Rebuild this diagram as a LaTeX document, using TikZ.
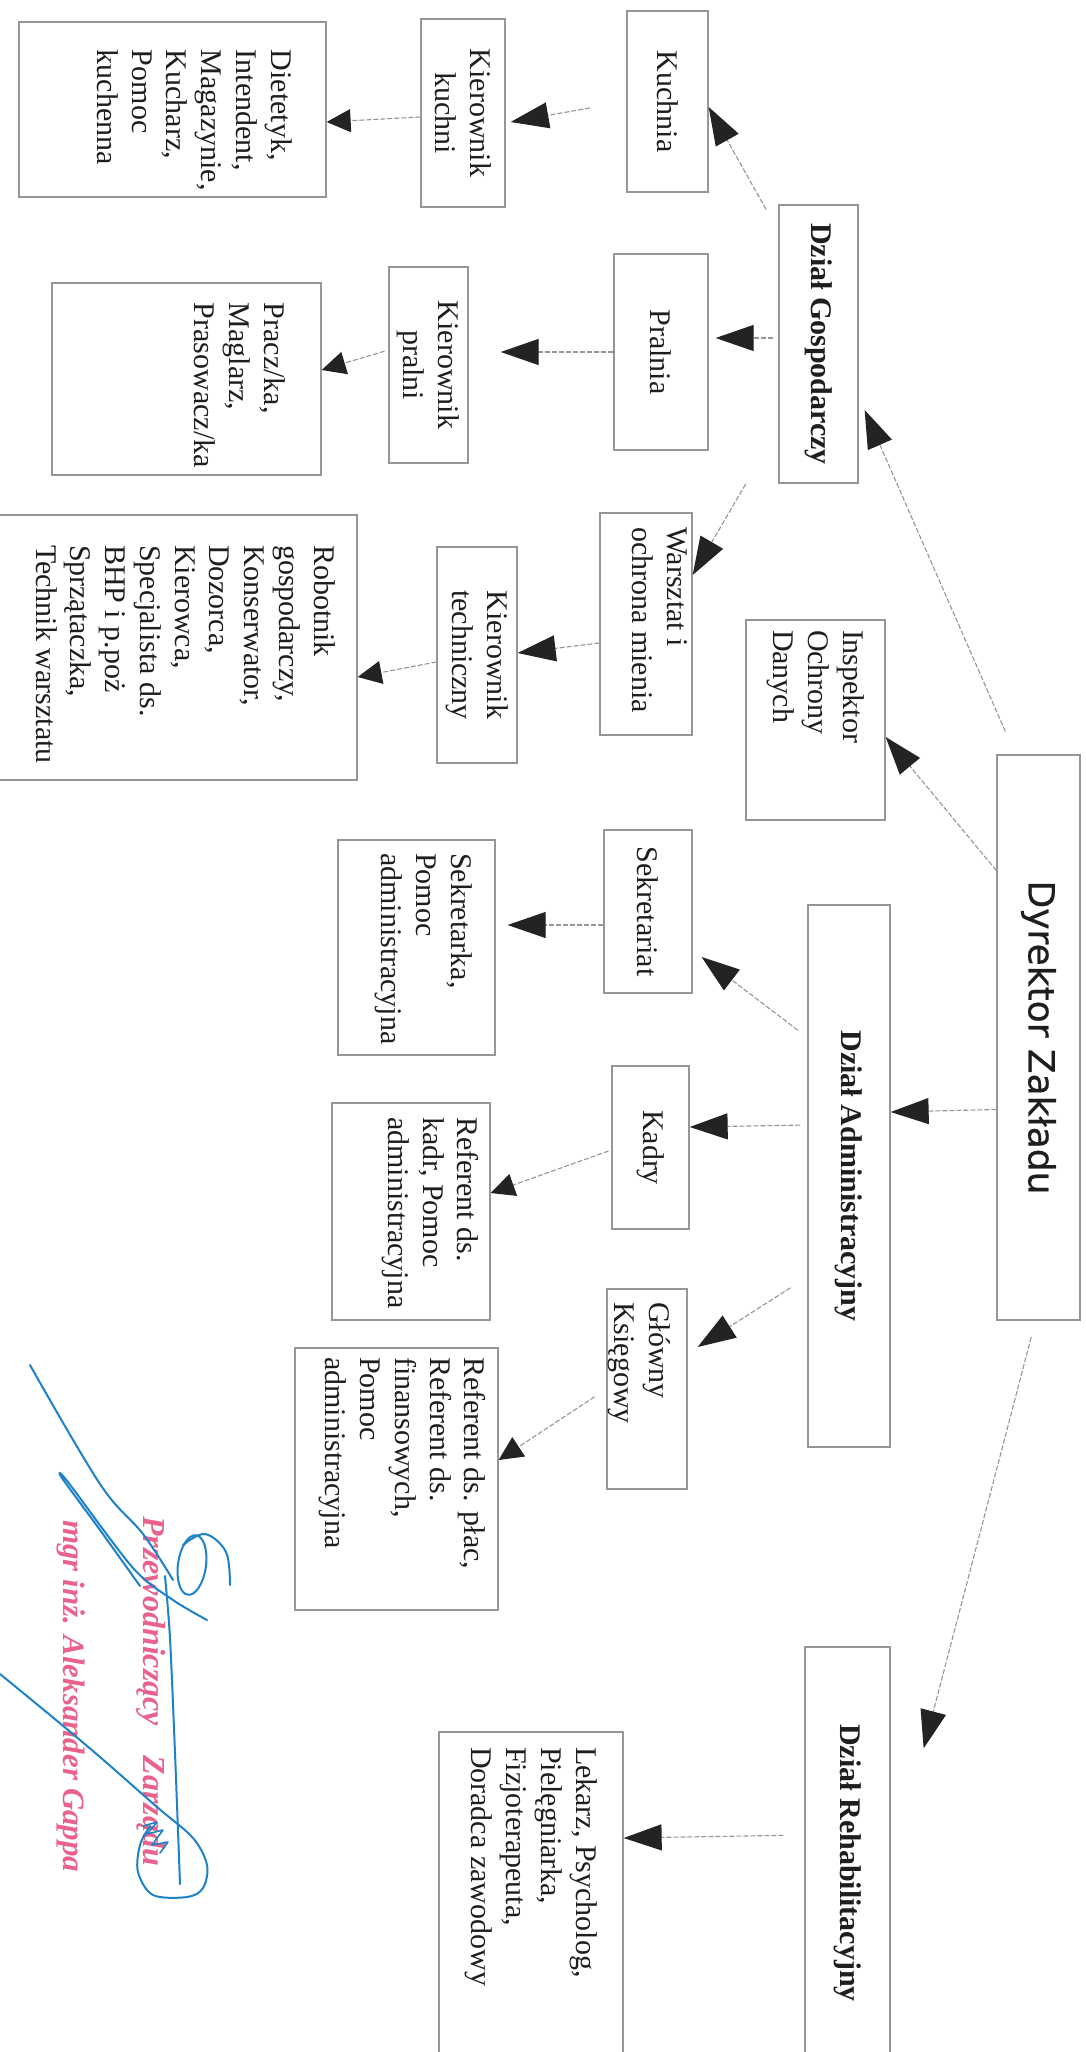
\documentclass[tikz,border=0pt]{standalone}
\usepackage{fontspec}
\setmainfont{Liberation Serif}
\newfontfamily\dyrfont[FakeBold=0.6]{DejaVu Sans}
\usepackage{graphicx}
\usetikzlibrary{arrows.meta}
\definecolor{boxc}{RGB}{150,150,150}
\definecolor{linec}{RGB}{150,150,150}
\definecolor{tipc}{RGB}{35,35,35}
\definecolor{txtc}{RGB}{30,30,30}
\definecolor{stampc}{RGB}{232,98,140}
\definecolor{inkc}{RGB}{30,130,200}
\newcommand{\cbox}[3]{\rotatebox{-90}{\parbox[c][#2pt][c]{#1pt}{\centering #3\par}}}
\newcommand{\lbox}[5]{\rotatebox{-90}{\parbox[c][#2pt][t]{#1pt}{\vspace*{#3pt}\raggedright\leftskip=#4pt\relax #5\par}}}
\tikzset{
  box/.style={draw=boxc, line width=1.3pt, inner sep=0pt, fill=white, text=txtc, font=\fontsize{30}{34.75}\selectfont},
  dbox/.style={box, font=\bfseries\fontsize{30}{34.75}\selectfont},
  conn/.style={draw=linec, line width=1.1pt, dash pattern=on 5pt off 2pt},
  bigarr/.style={conn, -{Triangle[length=38pt,width=26pt,color=tipc]}},
  smallarr/.style={conn, -{Triangle[length=24pt,width=23pt,color=tipc]}},
  sig/.style={draw=inkc, line width=2pt, line cap=round, line join=round},
  stamp/.style={text=stampc, font=\bfseries\itshape\fontsize{32}{36}\selectfont, rotate=-90, anchor=base west, inner sep=0pt},
}
\begin{document}
\begin{tikzpicture}[x=1pt,y=1pt]
\useasboundingbox[fill=white] (0,0) rectangle (1086,-2052);
\clip (0,0) rectangle (1086,-2052);
% boxes
\node[box] (kuchnia) at (667.5,-101.5) {\cbox{181}{81}{Kuchnia}};
\node[box] (kkuchni) at (463,-113) {\cbox{188}{84}{Kierownik\\kuchni}};
\node[box] (diet) at (172.5,-109.5) {\lbox{175}{307}{34}{28}{Dietetyk,\\Intendent,\\Magazynie,\\Kucharz,\\Pomoc\\kuchenna}};
\node[dbox] (gosp) at (818.5,-344) {\cbox{278}{79}{Dział Gospodarczy}};
\node[box] (pralnia) at (661,-352) {\cbox{196}{94}{Pralnia}};
\node[box] (kpralni) at (428.5,-365) {\cbox{196}{79}{Kierownik\\pralni}};
\node[box] (pracz) at (186.5,-379) {\lbox{192}{269}{36}{20}{Pracz/ka,\\Maglarz,\\Prasowacz/ka}};
\node[box] (warsztat) at (646,-624) {\lbox{222}{92}{5}{14}{Warsztat i\\ochrona mienia}};
\node[box] (ktech) at (477,-655) {\cbox{216}{80}{Kierownik\\techniczny}};
\node[box] (robot) at (177,-647.5) {\lbox{265}{360}{22}{30}{Robotnik\\gospodarczy,\\Konserwator,\\Dozorca,\\Kierowca,\\Specjalista ds.\\BHP i p.poż\\Sprzątaczka,\\Technik warsztatu}};
\node[box] (insp) at (815.5,-720) {\lbox{200}{139}{21}{10}{Inspektor\\Ochrony\\Danych}};
\node[box] (dyr) at (1038.5,-1037.5) {\cbox{565}{83}{\dyrfont\fontsize{36}{40}\selectfont Dyrektor Zakładu}};
\node[box] (sekr) at (648,-911.5) {\cbox{163}{88}{Sekretariat}};
\node[box] (sekrbox) at (416.5,-947.5) {\lbox{215}{157}{23}{13}{Sekretarka,\\Pomoc\\administracyjna}};
\node[dbox] (admin) at (849,-1176) {\cbox{542}{82}{Dział Administracyjny}};
\node[box] (kadry) at (650.5,-1147.5) {\cbox{163}{77}{Kadry}};
\node[box] (refkadr) at (411,-1211.5) {\lbox{217}{158}{11}{14}{Referent ds.\\kadr, Pomoc\\administracyjna}};
\node[box] (glowny) at (647,-1389) {\lbox{200}{80}{17}{13}{Główny\\Księgowy}};
\node[box] (refplac) at (396.5,-1479) {\lbox{262}{203}{12}{9}{Referent ds. płac,\\Referent ds.\\finansowych,\\Pomoc\\administracyjna}};
\node[dbox] (rehab) at (847.5,-1863) {\cbox{432}{85}{Dział Rehabilitacyjny}};
\node[box] (lekarz) at (531,-1916) {\lbox{368}{184}{26}{15}{Lekarz, Psycholog,\\Pielęgniarka,\\Fizjoterapeuta,\\Doradca zawodowy}};
% connectors
\draw[bigarr, shorten <=25pt] ([xshift=19pt]dyr.north west) -- ([xshift=6pt,yshift=-66pt]gosp.east);
\draw[bigarr] ([yshift=167pt]dyr.west) -- ([yshift=-17pt]insp.east);
\draw[bigarr] ([yshift=-72pt]dyr.west) -- ([yshift=64pt]admin.east);
\draw[bigarr, shorten <=17pt] ([xshift=-3pt]dyr.south) -- ([xshift=33pt,yshift=-102pt]rehab.north east);
\draw[bigarr, shorten <=25pt] ([yshift=-27pt]gosp.north west) -- ([yshift=-5.5pt]kuchnia.east);
\draw[bigarr, shorten <=5pt] ([yshift=6pt]gosp.west) -- ([xshift=7pt,yshift=14pt]pralnia.east);
\draw[bigarr, shorten <=65pt] ([yshift=-84pt]gosp.west) -- ([yshift=49pt]warsztat.east);
\draw[bigarr, shorten <=37pt] (kuchnia.west) -- ([xshift=5pt,yshift=-9pt]kkuchni.east);
\draw[smallarr] ([yshift=-4pt]kkuchni.west) -- ([yshift=-12.5pt]diet.east);
\draw[bigarr] (pralnia.west) -- ([xshift=32pt,yshift=13pt]kpralni.east);
\draw[smallarr, shorten <=4pt] ([yshift=15pt]kpralni.west) -- ([yshift=9pt]pracz.east);
\draw[bigarr] ([yshift=-19pt]warsztat.west) -- ([yshift=2pt]ktech.east);
\draw[smallarr] ([yshift=-7pt]ktech.west) -- ([yshift=-29.5pt]robot.east);
\draw[bigarr, shorten <=12pt] ([yshift=138.5pt]admin.west) -- ([xshift=9pt,yshift=-45.5pt]sekr.east);
\draw[bigarr] ([yshift=-13.5pt]sekr.west) -- ([xshift=12pt,yshift=22.5pt]sekrbox.east);
\draw[bigarr, shorten <=7pt] ([yshift=51pt]admin.west) -- ([yshift=20.5pt]kadry.east);
\draw[smallarr, shorten <=3pt] ([yshift=-2.5pt]kadry.west) -- ([yshift=18.5pt]refkadr.east);
\draw[bigarr, shorten <=20pt] ([yshift=-101pt]admin.west) -- ([xshift=10pt,yshift=42pt]glowny.east);
\draw[smallarr, shorten <=14pt] (glowny.west) -- ([yshift=19pt]refplac.east);
\draw[bigarr, shorten <=21pt] ([yshift=28pt]rehab.west) -- ([yshift=78pt]lekarz.east);
% stamp
\node[stamp] (stamp1) at (143,-1516) {Przewodniczący\hspace{30pt}Zarządu};
\node[stamp, font=\bfseries\itshape\fontsize{31}{35}\selectfont] (stamp2) at (63,-1520) {mgr inż. Aleksander Gappa};
% signature
\draw[sig] plot[smooth, tension=0.6] coordinates {(30,-1365) (100,-1484) (143,-1534) (173,-1580)};
\draw[sig, rotate around={-8:(192,-1565)}] (192,-1565) ellipse [x radius=14, y radius=30];
\draw[sig] plot[smooth, tension=0.6] coordinates {(183,-1545) (205,-1534) (226,-1552) (230,-1585)};
\draw[sig] plot[smooth, tension=0.5] coordinates {(140,-1586) (100,-1530) (62,-1478) (68,-1482) (133,-1568) (173,-1600) (207,-1620)};
\draw[sig] plot[smooth, tension=0.5] coordinates {(165,-1576) (170,-1638) (175,-1753) (180,-1884)};
\draw[sig] plot[smooth, tension=0.55] coordinates {(0,-1674) (50,-1715) (100,-1757) (157,-1807) (193,-1838) (207,-1865) (203,-1888) (187,-1897) (153,-1895) (138,-1872) (140,-1845) (150,-1826)};
\draw[sig, line width=1.6pt] plot coordinates {(143,-1826) (157,-1822) (147,-1834) (163,-1830) (152,-1845) (168,-1842) (160,-1853)};
\end{tikzpicture}
\end{document}
